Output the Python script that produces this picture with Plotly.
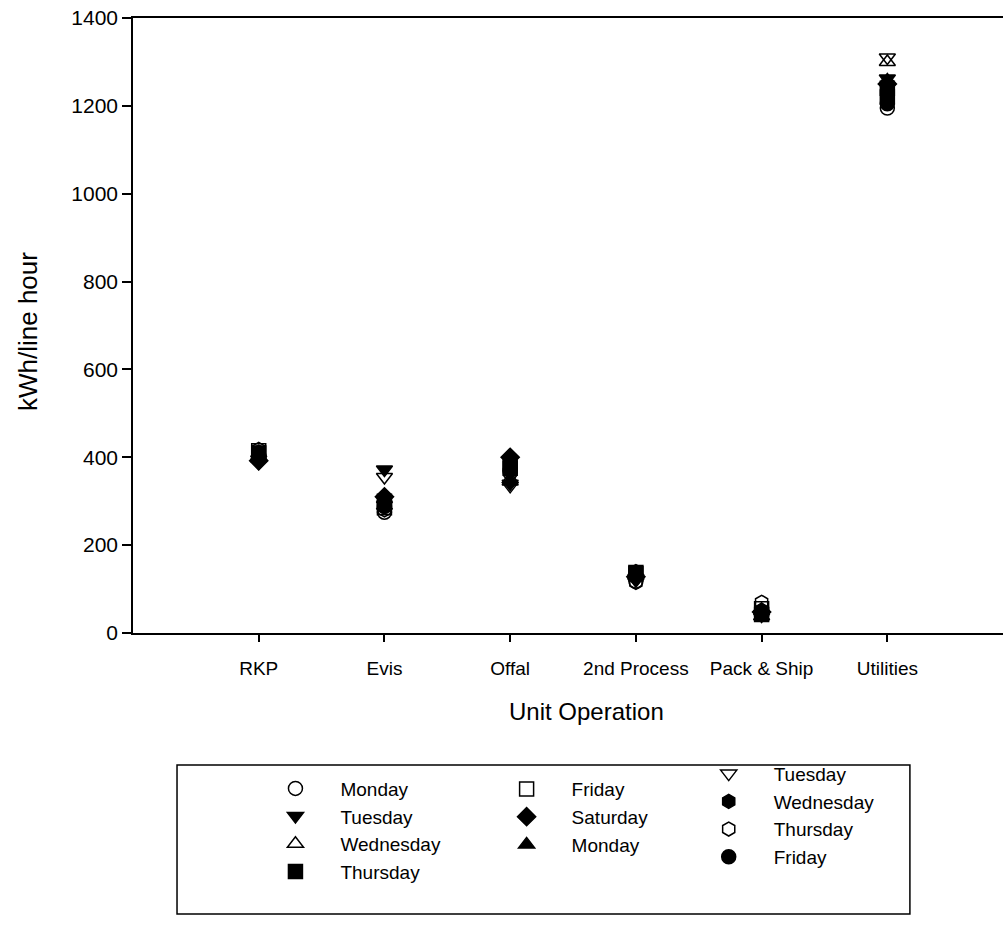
import plotly.graph_objects as go

categories = ["RKP", "Evis", "Offal", "2nd Process", "Pack & Ship", "Utilities"]

series_names = ["Monday", "Tuesday", "Wednesday", "Thursday",
                "Friday", "Saturday", "Monday",
                "Tuesday", "Wednesday", "Thursday", "Friday"]
series_symbols = ["circle-open", "triangle-down", "triangle-up-open", "square",
                  "square-open", "diamond", "triangle-up",
                  "triangle-down-open", "hexagon", "hexagon-open", "circle"]
series_legend = ["legend", "legend", "legend", "legend",
                 "legend2", "legend2", "legend2",
                 "legend3", "legend3", "legend3", "legend3"]

mon1 = [405, 275, 365, 118, 45, 1195]
tue1 = [395, 372, 340, 125, 40, 1262]
wed1 = [400, 290, 350, 130, 50, 1300]
thu1 = [410, 300, 385, 135, 42, 1240]
fri1 = [415, 285, 375, 138, 55, 1220]
sat1 = [392, 310, 400, 128, 48, 1250]
mon2 = [398, 305, 345, 132, 38, 1258]
tue2 = [388, 355, 335, 120, 42, 1310]
wed2 = [412, 295, 395, 140, 52, 1215]
thu2 = [418, 280, 380, 115, 70, 1230]
fri2 = [402, 288, 370, 130, 47, 1205]
series_values = [mon1, tue1, wed1, thu1, fri1, sat1, mon2, tue2, wed2, thu2, fri2]

FONT = "Liberation Sans, Arial, sans-serif"

fig = go.Figure()
for name, sym, leg, vals in zip(series_names, series_symbols, series_legend, series_values):
    fig.add_trace(go.Scatter(
        x=categories, y=vals, mode="markers", name=name, legend=leg,
        marker=dict(symbol=sym, size=14, color="black",
                    line=dict(color="black", width=1.5)),
    ))

leg_common = dict(font=dict(family=FONT, size=19, color="black"),
                  bgcolor="rgba(0,0,0,0)", borderwidth=0, itemwidth=80,
                  xanchor="left", yanchor="top", tracegroupgap=0)

fig.update_layout(
    width=1003, height=944,
    margin=dict(l=133, r=0, t=18, b=311),
    paper_bgcolor="white", plot_bgcolor="white",
    font=dict(family=FONT, color="black"),
    showlegend=True,
    legend=dict(x=0.135, y=-0.222, **leg_common),
    legend2=dict(x=0.4007, y=-0.223, **leg_common),
    legend3=dict(x=0.633, y=-0.198, **leg_common),
    xaxis=dict(type="category", categoryorder="array", categoryarray=categories,
               range=[-1, 5.92], showline=True, linecolor="black", linewidth=1.5,
               mirror=True, ticks="outside", ticklen=7, tickcolor="black",
               tickwidth=1.5, showgrid=False, zeroline=False, ticklabelstandoff=10,
               tickfont=dict(family=FONT, size=19, color="black")),
    yaxis=dict(range=[0, 1400], tickvals=[0, 200, 400, 600, 800, 1000, 1200, 1400],
               showline=True, linecolor="black", linewidth=1.5, mirror=False,
               ticks="outside", ticklen=9, tickcolor="black", tickwidth=1.5,
               showgrid=False, zeroline=False,
               tickfont=dict(family=FONT, size=21, color="black")),
    annotations=[
        dict(text="Unit Operation", xref="paper", yref="paper",
             x=0.5207, y=-0.128, xanchor="center", yanchor="middle",
             showarrow=False, font=dict(family=FONT, size=24, color="black")),
        dict(text="kWh/line hour", xref="paper", yref="paper",
             x=-0.1207, y=0.491, xanchor="center", yanchor="middle", textangle=-90,
             showarrow=False, font=dict(family=FONT, size=26, color="black")),
    ],
    shapes=[dict(type="rect", xref="paper", yref="paper",
                 x0=0.0506, x1=0.893, y0=-0.457, y1=-0.2146,
                 line=dict(color="black", width=1.5), fillcolor="rgba(0,0,0,0)")],
)

fig.write_html("out.html")
